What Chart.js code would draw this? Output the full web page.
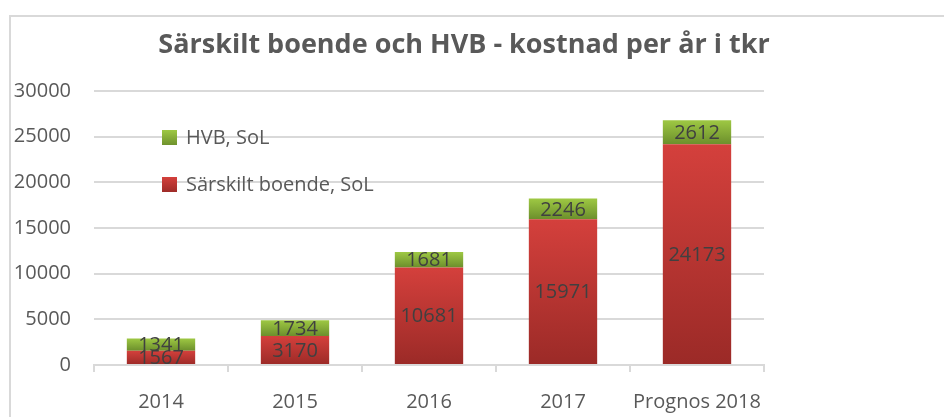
<!DOCTYPE html>
<html>
<head>
<meta charset="utf-8">
<script src="https://cdn.jsdelivr.net/npm/chart.js@4/dist/chart.umd.min.js"></script>
<style>
  html, body { margin: 0; padding: 0; background: #fff; }
  #wrap { width: 944px; height: 417px; position: relative; }
</style>
</head>
<body>
<div id="wrap"><canvas id="chart"></canvas></div>
<script>
const titleText = 'Särskilt boende och HVB - kostnad per år i tkr';
const categories = ['2014', '2015', '2016', '2017', 'Prognos 2018'];
const boende = [1567, 3170, 10681, 15971, 24173];
const hvb = [1341, 1734, 1681, 2246, 2612];
const seriesNames = ['Särskilt boende, SoL', 'HVB, SoL'];

const textGrey = '#595959';
const gridGrey = '#d9d9d9';
Chart.defaults.font.family = "'Open Sans', sans-serif";
Chart.defaults.font.size = 20;
Chart.defaults.color = textGrey;

const redStops = ['#d4403c', '#9b2a27'];
const greenStops = ['#9ec843', '#6c8f2c'];

function gradient(c, top, bottom, stops) {
  const g = c.createLinearGradient(0, top, 0, bottom);
  g.addColorStop(0, stops[0]);
  g.addColorStop(1, stops[1]);
  return g;
}

// each segment gets its own top-to-bottom gradient
function segmentFill(stops, lower, upper) {
  return ctx => {
    const chart = ctx.chart;
    const y = chart.scales.y;
    if (!chart.chartArea || !y || ctx.dataIndex === undefined) return stops[0];
    const i = ctx.dataIndex;
    const top = y.getPixelForValue(lower(i) + upper(i));
    const bottom = y.getPixelForValue(lower(i));
    if (!(bottom > top)) return stops[0];
    return gradient(chart.ctx, top, bottom, stops);
  };
}

const frame = {
  id: 'frame',
  beforeDraw(chart) {
    const c = chart.ctx;
    c.save();
    c.strokeStyle = gridGrey;
    c.lineWidth = 2;
    c.beginPath();
    c.moveTo(944, 16);
    c.lineTo(10, 16);
    c.lineTo(10, 417);
    c.stroke();
    c.restore();
  }
};

const titlePlugin = {
  id: 'titleText',
  afterDraw(chart) {
    const c = chart.ctx;
    c.save();
    c.font = "bold 27px 'Open Sans', sans-serif";
    c.fillStyle = textGrey;
    c.textAlign = 'center';
    c.textBaseline = 'middle';
    c.fillText(titleText, 464, 45);
    c.restore();
  }
};

const valueLabels = {
  id: 'valueLabels',
  afterDatasetsDraw(chart) {
    const c = chart.ctx;
    c.save();
    c.font = "20px 'Open Sans', sans-serif";
    c.fillStyle = '#404040';
    c.textAlign = 'center';
    c.textBaseline = 'middle';
    chart.data.datasets.forEach((ds, di) => {
      chart.getDatasetMeta(di).data.forEach((bar, i) => {
        const p = bar.getCenterPoint();
        c.fillText(String(ds.data[i]), p.x, p.y + 1);
      });
    });
    c.restore();
  }
};

const innerLegend = {
  id: 'innerLegend',
  afterDraw(chart) {
    const c = chart.ctx;
    const rows = [
      { ds: 1, stops: greenStops, y: 138 },
      { ds: 0, stops: redStops, y: 185 }
    ];
    c.save();
    c.font = "20px 'Open Sans', sans-serif";
    c.textBaseline = 'middle';
    rows.forEach(r => {
      c.fillStyle = gradient(c, r.y - 8, r.y + 8, r.stops);
      c.fillRect(162, r.y - 8, 15, 15);
      c.fillStyle = textGrey;
      c.fillText(chart.data.datasets[r.ds].label, 186, r.y);
    });
    c.restore();
  }
};

new Chart(document.getElementById('chart'), {
  type: 'bar',
  data: {
    labels: categories,
    datasets: [
      {
        label: seriesNames[0],
        data: boende,
        backgroundColor: segmentFill(redStops, () => 0, i => boende[i])
      },
      {
        label: seriesNames[1],
        data: hvb,
        backgroundColor: segmentFill(greenStops, i => boende[i], i => hvb[i])
      }
    ]
  },
  options: {
    responsive: true,
    maintainAspectRatio: false,
    animation: false,
    layout: { padding: { left: 0, right: 180, top: 91, bottom: 0 } },
    plugins: {
      legend: { display: false },
      title: { display: false },
      tooltip: { enabled: false }
    },
    datasets: {
      bar: { categoryPercentage: 1, barPercentage: 0.51 }
    },
    scales: {
      x: {
        stacked: true,
        grid: {
          offset: true,
          drawOnChartArea: false,
          drawTicks: true,
          tickLength: 7,
          color: gridGrey,
          lineWidth: 2
        },
        border: { color: gridGrey, width: 2 },
        ticks: { color: textGrey, padding: 18 },
        afterFit(scale) { scale.height = 52; }
      },
      y: {
        stacked: true,
        min: 0,
        max: 30000,
        ticks: {
          stepSize: 5000,
          padding: 23,
          color: textGrey,
          callback: v => String(v)
        },
        grid: { color: gridGrey, lineWidth: 2, drawTicks: false },
        border: { display: false },
        afterFit(scale) { scale.width = 94; }
      }
    }
  },
  plugins: [frame, valueLabels, innerLegend, titlePlugin]
});
</script>
</body>
</html>
